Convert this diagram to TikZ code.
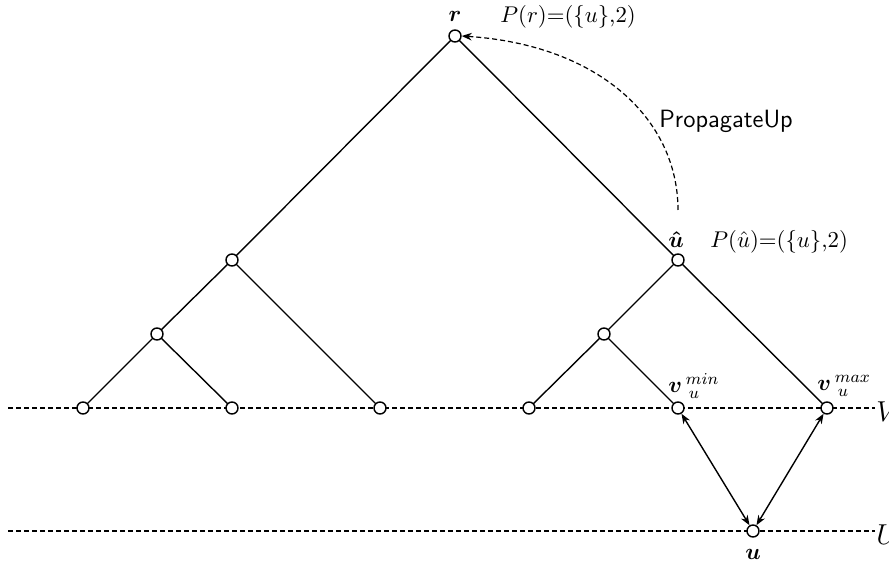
\documentclass[tikz,border=0pt]{standalone}
\usepackage{amsmath}
\usepackage{graphicx}
\usetikzlibrary{arrows.meta}
\begin{document}
\begin{tikzpicture}[x=0.5pt,y=-0.5pt,
  vtx/.style={circle,draw,fill=white,inner sep=0pt,minimum size=6pt,line width=0.7pt},
  edge/.style={line width=0.7pt},
  level/.style={dash pattern=on 2.5pt off 1.5pt,line width=0.6pt},
  dbl/.style={line width=0.7pt,{Stealth[length=5pt,width=3.8pt]}-{Stealth[length=5pt,width=3.8pt]}},
  lbl/.style={font=\fontsize{10.95}{14}\selectfont,inner sep=0pt}]
\useasboundingbox (0,0) rectangle (889,566);
% level lines
\coordinate (vl) at (8,408);
\coordinate (vr) at (875,408);
\coordinate (ul) at (8,531);
\coordinate (ur) at (875,531);
\draw[level] (vl) -- (vr);
\draw[level] (ul) -- (ur);
\node[anchor=west,inner sep=0pt,font=\fontsize{14.4}{17}\selectfont] (Vlab) at (876,412) {$V$};
\node[anchor=west,inner sep=0pt,font=\fontsize{14.4}{17}\selectfont] (Ulab) at (876,535) {$U$};
% tree nodes
\coordinate (pr) at (455,36);
\coordinate (pa) at (232,260);
\coordinate (pu) at (678,260);
\coordinate (pb) at (157,334);
\coordinate (pc) at (604,334);
\coordinate (pl1) at (83,408);
\coordinate (pl2) at (232,408);
\coordinate (pl3) at (380,408);
\coordinate (pl4) at (529,408);
\coordinate (pl5) at (678,408);
\coordinate (pl6) at (827,408);
\coordinate (pn) at (753,531);
\draw[edge] (pr) -- (pa);
\draw[edge] (pr) -- (pu);
\draw[edge] (pa) -- (pb);
\draw[edge] (pa) -- (pl3);
\draw[edge] (pb) -- (pl1);
\draw[edge] (pb) -- (pl2);
\draw[edge] (pu) -- (pc);
\draw[edge] (pu) -- (pl6);
\draw[edge] (pc) -- (pl4);
\draw[edge] (pc) -- (pl5);
\node[vtx] (r) at (pr) {};
\node[vtx] (a) at (pa) {};
\node[vtx] (uh) at (pu) {};
\node[vtx] (b) at (pb) {};
\node[vtx] (c) at (pc) {};
\node[vtx] (l1) at (pl1) {};
\node[vtx] (l2) at (pl2) {};
\node[vtx] (l3) at (pl3) {};
\node[vtx] (l4) at (pl4) {};
\node[vtx] (vmin) at (pl5) {};
\node[vtx] (vmax) at (pl6) {};
\node[vtx] (u) at (pn) {};
% arrows
\draw[dbl] (vmin) -- (u);
\draw[dbl] (vmax) -- (u);
% labels
\node[lbl] (rl) at (455,16) {\scalebox{1.04}{$\boldsymbol{r}$}};
\node[lbl,anchor=west] (Pr) at (500,17) {\scalebox{1.04}{$P(r)$=($\{u\}$,2)}};
\node[lbl] (uhl) at (676,240) {\scalebox{1.04}{$\boldsymbol{\hat u}$}};
\node[lbl,anchor=west] (Pu) at (710,242) {\scalebox{1.04}{$P(\hat u)$=($\{u\}$,2)}};
\node[lbl,anchor=west] (vminl) at (668,386) {\scalebox{1.04}{$\boldsymbol{v}\,{}^{min}_{\,u}$}};
\node[lbl,anchor=west] (vmaxl) at (817,386) {\scalebox{1.04}{$\boldsymbol{v}\,{}^{max}_{\,u}$}};
\node[lbl] (ul2) at (753,554) {\scalebox{1.04}{$\boldsymbol{u}$}};
% propagate up
\coordinate (ps) at (678,210);
\draw[dash pattern=on 2.5pt off 1.5pt,line width=0.6pt,-{Stealth[length=5pt,width=3.8pt]}] (ps) .. controls (678,120) and (600,45) .. (r.east);
\node[anchor=west,inner sep=0pt,font=\fontsize{12.5}{15}\selectfont\sffamily] (pl) at (659,121) {PropagateUp};
\end{tikzpicture}
\end{document}
